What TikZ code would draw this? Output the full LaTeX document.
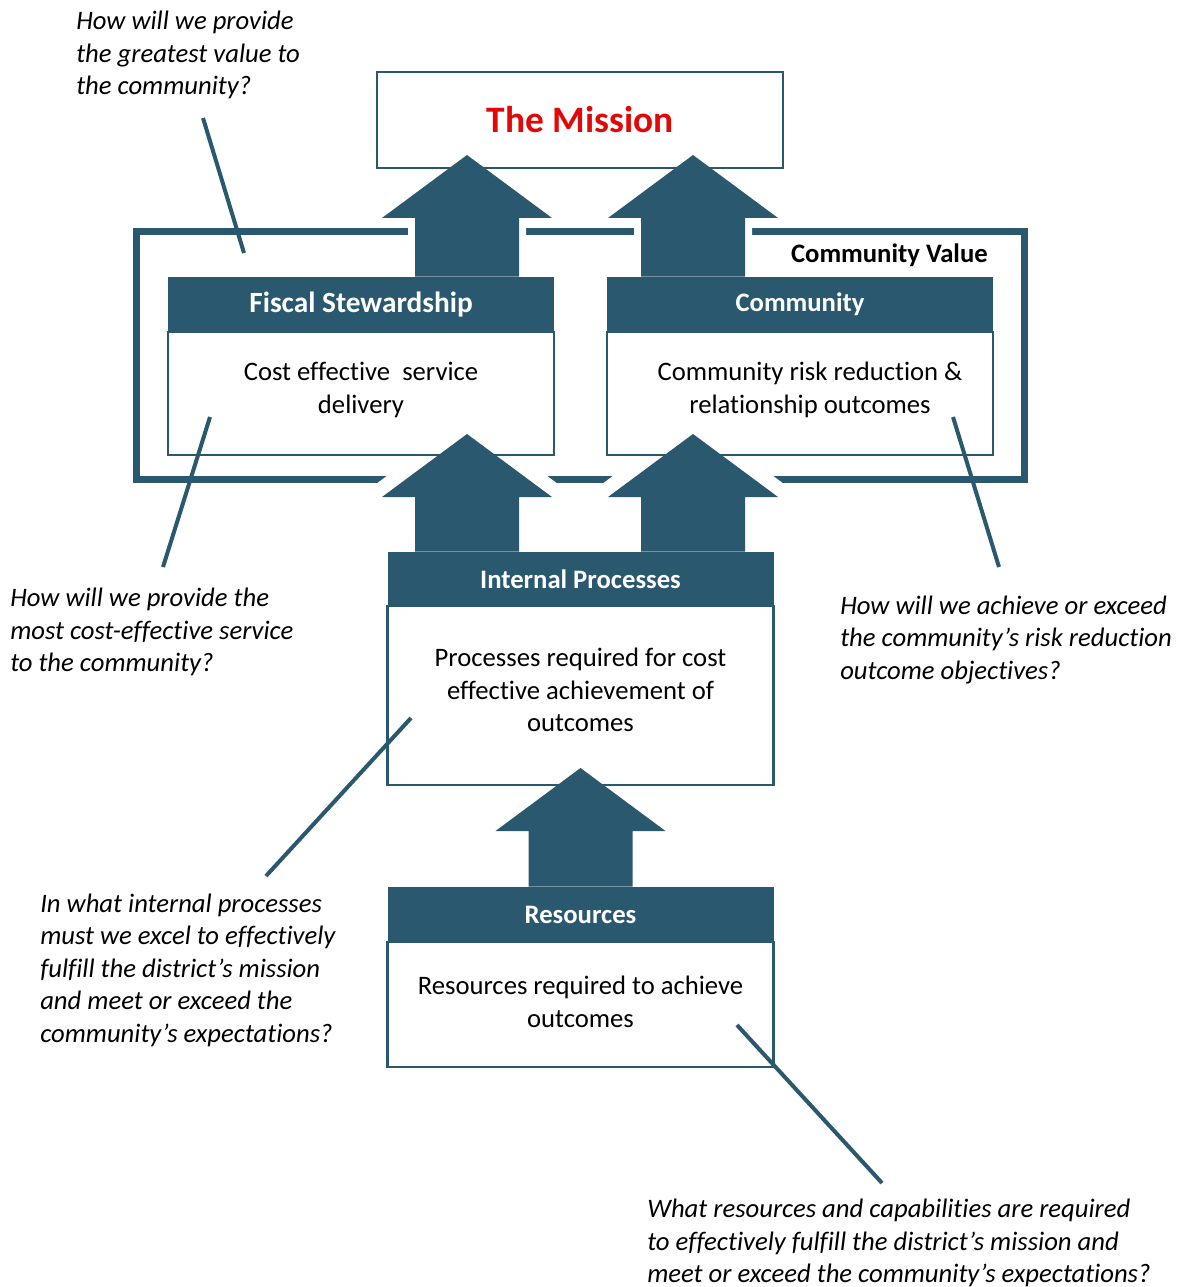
\documentclass[tikz,border=0pt]{standalone}
\usepackage{fontspec}
\setmainfont{Carlito}[Ligatures=NoCommon]
\usetikzlibrary{calc}
\definecolor{slate}{RGB}{42,88,111}
\definecolor{missionred}{RGB}{226,8,8}

% Block arrow pointing up: #1 path options, #2 base (shaft bottom), #3 tip
\newcommand\flowarrow[3][]{%
  \path (#3) ++(-85,63) coordinate (hl) ++(33,0) coordinate (sl)
        (#3) ++(85,63) coordinate (hr) ++(-33,0) coordinate (sr);
  \path[#1] (#3) -- (hl) -- (sl) -- (sl |- #2) -- (sr |- #2) -- (sr) -- (hr) -- cycle;
}

\begin{document}
\begin{tikzpicture}[x=0.75pt,y=-0.75pt,
  bodytext/.style={font=\fontsize{20}{24.4}\selectfont, align=center, inner sep=0pt},
  question/.style={font=\itshape\fontsize{20}{24.4}\selectfont, align=left, anchor=west, inner sep=0pt},
  heading/.style={fill=slate, text=white, font=\bfseries\fontsize{20}{24}\selectfont,
    inner sep=0pt, minimum height=55*0.75pt, minimum width=386*0.75pt},
  panel/.style={draw=slate, line width=2.5*0.75pt, fill=white, inner sep=0pt,
    minimum width=386*0.75pt},
  leader/.style={draw=slate, line width=4*0.75pt},
  halo/.style={draw=white, line width=#1*0.75pt, line join=miter},
  solidarrow/.style={fill=slate},
]
\useasboundingbox (0,0) rectangle (1178,1287);

% Community Value frame
\node[draw=slate, line width=7.5*0.75pt, minimum width=888*0.75pt,
      minimum height=248*0.75pt, inner sep=0pt] (frame) at (580.5,355.5) {};
\node[anchor=east, inner sep=0pt, font=\bfseries\fontsize{20}{24}\selectfont]
      (cvlabel) at (988,255) {Community Value};

% Arrow tips
\coordinate (tipA) at (467,155);
\coordinate (tipB) at (693,155);
\coordinate (tipC) at (467,434);
\coordinate (tipD) at (693,434);
\coordinate (tipE) at (580.5,768);

% Header centres and shaft bases
\path (361,304.5) coordinate (fheadc) (800,304.5) coordinate (cheadc)
      (580.5,579) coordinate (iheadc) (580.5,914.5) coordinate (rheadc);
\coordinate (upperbase) at (0,277);
\coordinate (lowerbase) at (0,552);

% White gaps where the arrows cross the frame
\flowarrow[halo=14]{upperbase}{tipA}
\flowarrow[halo=14]{upperbase}{tipB}
\flowarrow[halo=28]{lowerbase}{tipC}
\flowarrow[halo=28]{lowerbase}{tipD}

% Mission box
\node[draw=slate, line width=2*0.75pt, fill=white, minimum width=406*0.75pt,
      minimum height=96*0.75pt, inner sep=0pt, text=missionred,
      font=\bfseries\fontsize{28}{30}\selectfont] (mission) at (580,120) {The Mission};

% Panels
\node[panel, minimum height=123*0.75pt] (fbody) at (361,393.5) {};
\node[heading, font=\bfseries\fontsize{22}{26}\selectfont] (fhead) at (fheadc) {Fiscal Stewardship};
\node[panel, minimum height=123*0.75pt] (cbody) at (800,393.5) {};
\node[heading] (chead) at (cheadc) {Community};
\node[panel, minimum height=179*0.75pt] (ibody) at (580.5,695.5) {};
\node[heading, minimum height=54*0.75pt] (ihead) at (iheadc) {Internal Processes};
\node[panel, minimum height=125*0.75pt] (rbody) at (580.5,1004.5) {};
\node[heading] (rhead) at (rheadc) {Resources};

\node[bodytext] (ftext) at (361,390) {Cost effective\ \ service\\delivery};
\node[bodytext] (ctext) at (810,390) {Community risk reduction \&\\relationship outcomes};
\node[bodytext] (itext) at (580.5,690) {Processes required for cost\\effective achievement of\\outcomes};
\node[bodytext] (rtext) at (580.5,1002) {Resources required to achieve\\outcomes};

% Block arrows
\flowarrow[solidarrow]{fhead.north}{tipA}
\flowarrow[solidarrow]{chead.north}{tipB}
\flowarrow[solidarrow]{ihead.north}{tipC}
\flowarrow[solidarrow]{ihead.north}{tipD}
\flowarrow[solidarrow]{rhead.north}{tipE}

% Guiding questions
\node[question] (q1) at (76,55) {How will we provide\\the greatest value to\\the community?};
\node[question] (q2) at (10,632) {How will we provide the\\most cost-effective service\\to the community?};
\node[question] (q3) at (840,640) {How will we achieve or exceed\\the community’s risk reduction\\outcome objectives?};
\node[question] (q4) at (40,970) {In what internal processes\\must we excel to effectively\\fulfill the district’s mission\\and meet or exceed the\\community’s expectations?};
\node[question] (q5) at (647,1243) {What resources and capabilities are required\\to effectively fulfill the district’s mission and\\meet or exceed the community’s expectations?};

% Leader lines
\coordinate (l1a) at (203,118); \coordinate (l1b) at (244,253);
\coordinate (l2a) at (210,417); \coordinate (l2b) at (163,567);
\coordinate (l3a) at (953,417); \coordinate (l3b) at (999,567);
\coordinate (l4a) at (411,718); \coordinate (l4b) at (266,876);
\coordinate (l5a) at (737,1025); \coordinate (l5b) at (882,1183);
\draw[leader] (l1a) -- (l1b);
\draw[leader] (l2a) -- (l2b);
\draw[leader] (l3a) -- (l3b);
\draw[leader] (l4a) -- (l4b);
\draw[leader] (l5a) -- (l5b);
\end{tikzpicture}
\end{document}
